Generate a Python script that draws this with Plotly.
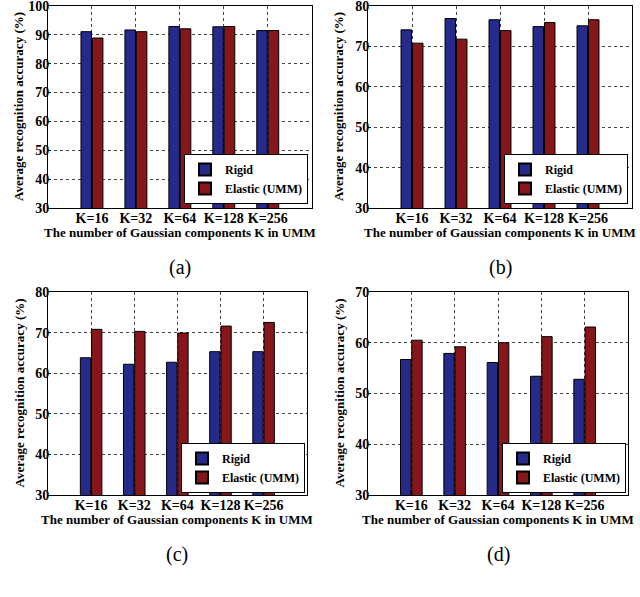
import plotly.graph_objects as go

categories = ["K=16", "K=32", "K=64", "K=128", "K=256"]
series_names = ["Rigid", "Elastic (UMM)"]

a_rigid = [91.1, 91.7, 92.9, 92.8, 91.5]
a_elastic = [88.9, 91.1, 92.1, 92.9, 91.5]
b_rigid = [74.1, 76.9, 76.6, 74.9, 75.1]
b_elastic = [70.8, 71.8, 73.9, 75.9, 76.6]
c_rigid = [63.8, 62.2, 62.7, 65.3, 65.3]
c_elastic = [70.8, 70.3, 69.9, 71.6, 72.5]
d_rigid = [56.7, 57.9, 56.1, 53.4, 52.8]
d_elastic = [60.5, 59.2, 60.0, 61.2, 63.1]

y_ranges = [[30, 100], [30, 80], [30, 80], [30, 70]]
panel_labels = ["(a)", "(b)", "(c)", "(d)"]
x_title = "The number of Gaussian components K in UMM"
y_title = "Average recognition accuracy (%)"

W, H = 640, 597
BLUE = "#262a8a"
RED = "#86161a"
FONT = "Liberation Serif"

# panel boxes in pixels: (left, right, top, bottom)
boxes = [(48, 311.7, 6, 208), (368, 632, 6, 208), (48, 306.7, 292, 495), (368, 628, 292, 495)]
legend_pos = [(308, 204), (628, 204), (305, 493), (626, 493)]

data = [(a_rigid, a_elastic), (b_rigid, b_elastic), (c_rigid, c_elastic), (d_rigid, d_elastic)]

fig = go.Figure()
layout = {}
annotations = []
for i, ((rig, ela), box, yr, lab, lp) in enumerate(zip(data, boxes, y_ranges, panel_labels, legend_pos)):
    n = "" if i == 0 else str(i + 1)
    lg = "legend" + n
    for vals, name, col in [(rig, series_names[0], BLUE), (ela, series_names[1], RED)]:
        fig.add_trace(go.Bar(
            x=categories, y=vals, name=name, marker=dict(color=col, line=dict(color="black", width=1)),
            xaxis="x" + n, yaxis="y" + n, legend=lg, showlegend=True,
        ))
    l, r, t, b = box
    layout["xaxis" + n] = dict(
        domain=[l / W, r / W], anchor="y" + n, type="category", range=[-1, 5],
        showgrid=True, gridcolor="#444", griddash="dot", gridwidth=1,
        showline=True, linecolor="black", mirror=True, linewidth=1,
        ticks="inside", ticklen=3, tickcolor="black", automargin=False,
        ticklabeloverflow="allow", ticklabelstandoff=-3,
        tickfont=dict(family=FONT, size=14, color="black", weight="bold"),
    )
    layout["yaxis" + n] = dict(
        domain=[1 - b / H, 1 - t / H], anchor="x" + n, range=yr, dtick=10,
        showgrid=True, gridcolor="#444", griddash="dot", gridwidth=1,
        showline=True, linecolor="black", mirror=True, linewidth=1,
        ticks="inside", ticklen=3, tickcolor="black", zeroline=False, automargin=False,
        ticklabeloverflow="allow", ticklabelstandoff=-5,
        tickfont=dict(family=FONT, size=14, color="black", weight="bold"),
    )
    layout[lg] = dict(
        x=lp[0] / W, y=1 - lp[1] / H, xanchor="right", yanchor="bottom",
        bgcolor="white", bordercolor="black", borderwidth=1,
        font=dict(family=FONT, size=12, color="black", weight="bold"), tracegroupgap=0,
        itemsizing="constant", itemwidth=30,
    )
    cx = (l + r) / 2
    annotations.append(dict(text=x_title, x=cx / W, y=1 - (b + 24) / H, xref="paper", yref="paper",
                            showarrow=False, font=dict(family=FONT, size=13, color="black", weight="bold"),
                            xanchor="center", yanchor="middle"))
    annotations.append(dict(text=y_title, x=(l - 29) / W, y=1 - ((t + b) / 2) / H, xref="paper", yref="paper",
                            showarrow=False, textangle=-90, font=dict(family=FONT, size=13, color="black", weight="bold"),
                            xanchor="center", yanchor="middle"))
    annotations.append(dict(text=lab, x=cx / W, y=1 - (b + 59) / H, xref="paper", yref="paper",
                            showarrow=False, font=dict(family=FONT, size=20, color="black"),
                            xanchor="center", yanchor="middle"))

fig.update_layout(
    width=W, height=H, margin=dict(l=0, r=0, t=0, b=0, autoexpand=False),
    paper_bgcolor="white", plot_bgcolor="white",
    barmode="group", bargap=0.48, bargroupgap=0.08,
    annotations=annotations, **layout,
)
fig.write_html("out.html", config={"displayModeBar": False},
               post_script="document.body.style.margin='0';")
